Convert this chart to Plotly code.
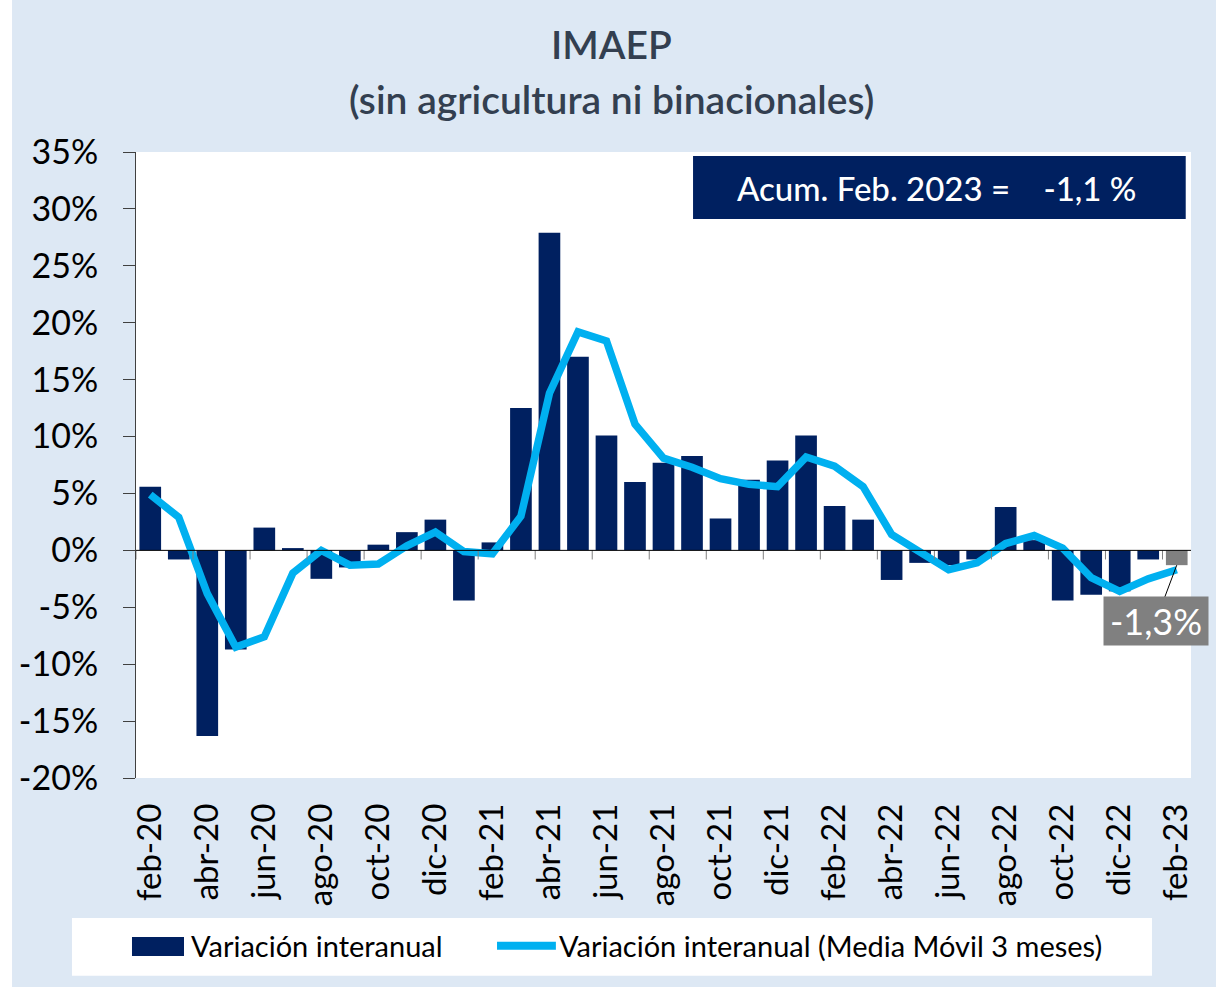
import plotly.graph_objects as go

months = ["feb-20", "mar-20", "abr-20", "may-20", "jun-20", "jul-20", "ago-20", "sep-20", "oct-20", "nov-20", "dic-20",
          "ene-21", "feb-21", "mar-21", "abr-21", "may-21", "jun-21", "jul-21", "ago-21", "sep-21", "oct-21", "nov-21", "dic-21",
          "ene-22", "feb-22", "mar-22", "abr-22", "may-22", "jun-22", "jul-22", "ago-22", "sep-22", "oct-22", "nov-22", "dic-22",
          "ene-23", "feb-23"]

var_interanual = [5.6, -0.8, -16.3, -8.7, 2.0, 0.2, -2.5, -1.5, 0.5, 1.6, 2.7,
                  -4.4, 0.7, 12.5, 27.9, 17.0, 10.1, 6.0, 7.7, 8.3, 2.8, 6.2, 7.9,
                  10.1, 3.9, 2.7, -2.6, -1.1, -1.3, -0.8, 3.8, 0.9, -4.4, -3.9, -3.6,
                  -0.8, -1.3]

media_movil = [4.9, 2.9, -3.8, -8.5, -7.6, -2.0, 0.0, -1.3, -1.2, 0.4, 1.6,
               -0.1, -0.3, 3.0, 13.8, 19.2, 18.4, 11.1, 8.1, 7.3, 6.3, 5.8, 5.6,
               8.2, 7.4, 5.6, 1.4, -0.2, -1.7, -1.1, 0.6, 1.3, 0.2, -2.4, -3.6,
               -2.5, -1.7]

tick_labels = months[::2]
y_ticks = [35, 30, 25, 20, 15, 10, 5, 0, -5, -10, -15, -20]

title_line1 = "IMAEP"
title_line2 = "(sin agricultura ni binacionales)"
acum_text = "Acum. Feb. 2023 =\u00a0\u00a0\u00a0\u00a0-1,1 %"
last_label = "-1,3%"
legend_bar = "Variación interanual"
legend_line = "Variación interanual (Media Móvil 3 meses)"

NAVY = "#002060"
CYAN = "#00B0F0"
GRAY = "#808080"
BG = "#DDE8F4"
FONT = "Lato, 'Open Sans', sans-serif"

idx = list(range(len(months)))
bar_colors = [NAVY] * (len(months) - 1) + [GRAY]

fig = go.Figure()
fig.add_trace(go.Bar(
    x=idx, y=var_interanual, name=legend_bar, showlegend=False,
    marker=dict(color=bar_colors, line=dict(width=0)),
))
fig.add_trace(go.Scatter(
    x=idx, y=media_movil, name=legend_line, showlegend=False,
    mode="lines", line=dict(color=CYAN, width=7.5),
))

shapes = []
# white strip at the left edge of the picture
shapes.append(dict(type="rect", xref="paper", yref="paper", x0=-0.2, x1=-0.1175, y0=-0.5, y1=1.4,
                   fillcolor="white", line=dict(width=0), layer="below"))
# tick marks on the zero line at category boundaries of labeled months
for i in range(0, len(months), 2):
    shapes.append(dict(type="line", xref="x", yref="y", x0=i - 0.5, x1=i - 0.5, y0=0, y1=-0.8,
                       line=dict(color=GRAY, width=1)))
# zero line
shapes.append(dict(type="line", xref="paper", yref="y", x0=0, x1=1, y0=0, y1=0,
                   line=dict(color="black", width=1)))
# acum box
shapes.append(dict(type="rect", xref="paper", yref="paper", x0=0.528, x1=0.995, y0=0.893, y1=0.9936,
                   fillcolor=NAVY, line=dict(width=0)))
# legend white box
shapes.append(dict(type="rect", xref="paper", yref="paper", x0=-0.0607, x1=0.963, y0=-0.316, y1=-0.2236,
                   fillcolor="white", line=dict(width=0), layer="below"))
# legend symbols
shapes.append(dict(type="rect", xref="paper", yref="paper", x0=-0.0038, x1=0.0455, y0=-0.2843, y1=-0.254,
                   fillcolor=NAVY, line=dict(width=0)))
shapes.append(dict(type="line", xref="paper", yref="paper", x0=0.3422, x1=0.398, y0=-0.268, y1=-0.268,
                   line=dict(color=CYAN, width=8)))

annotations = [
    dict(text=title_line1, xref="paper", yref="paper", x=0.451, y=1.173, showarrow=False,
         font=dict(size=39, color="#333F50", family=FONT, weight=600), xanchor="center", yanchor="middle"),
    dict(text=title_line2, xref="paper", yref="paper", x=0.451, y=1.084, showarrow=False,
         font=dict(size=39, color="#333F50", family=FONT, weight=600), xanchor="center", yanchor="middle"),
    dict(text=acum_text, xref="paper", yref="paper", x=0.759, y=0.943, showarrow=False,
         font=dict(size=33, color="white", family=FONT, weight=500), xanchor="center", yanchor="middle"),
    dict(text=last_label, x=idx[-1], y=var_interanual[-1], xref="x", yref="y",
         showarrow=True, arrowhead=0, arrowwidth=1, arrowcolor="black", ax=-21, ay=56,
         bgcolor=GRAY, borderpad=0, width=104, height=48,
         font=dict(size=36, color="white", family=FONT)),
    dict(text=legend_bar, xref="paper", yref="paper", x=0.0502, y=-0.268, showarrow=False,
         xanchor="left", yanchor="middle", font=dict(size=29, color="black", family=FONT)),
    dict(text=legend_line, xref="paper", yref="paper", x=0.399, y=-0.268, showarrow=False,
         xanchor="left", yanchor="middle", font=dict(size=29, color="black", family=FONT)),
]

fig.update_layout(
    width=1216, height=987,
    paper_bgcolor=BG, plot_bgcolor="white",
    margin=dict(l=136, r=25, t=152, b=209),
    font=dict(family=FONT, color="black"),
    bargap=0.24,
    showlegend=False,
    shapes=shapes,
    annotations=annotations,
    xaxis=dict(range=[-0.5, len(months) - 0.5], tickmode="array", tickvals=idx[::2], ticktext=tick_labels,
               tickangle=-90, ticks="", showline=False, showgrid=False, zeroline=False,
               ticklabelstandoff=18,
               tickfont=dict(size=33, color="black", family=FONT)),
    yaxis=dict(range=[-20, 35], tickmode="array", tickvals=y_ticks, ticktext=[f"{v}%" for v in y_ticks],
               ticks="outside", ticklen=12, tickcolor="#404040", showline=True, linecolor="#404040",
               linewidth=1, showgrid=False, zeroline=False, ticklabelstandoff=18,
               tickfont=dict(size=34, color="black", family=FONT)),
)

fig.write_html("out.html", config={"displayModeBar": False},
               post_script="document.body.style.margin='0';")
